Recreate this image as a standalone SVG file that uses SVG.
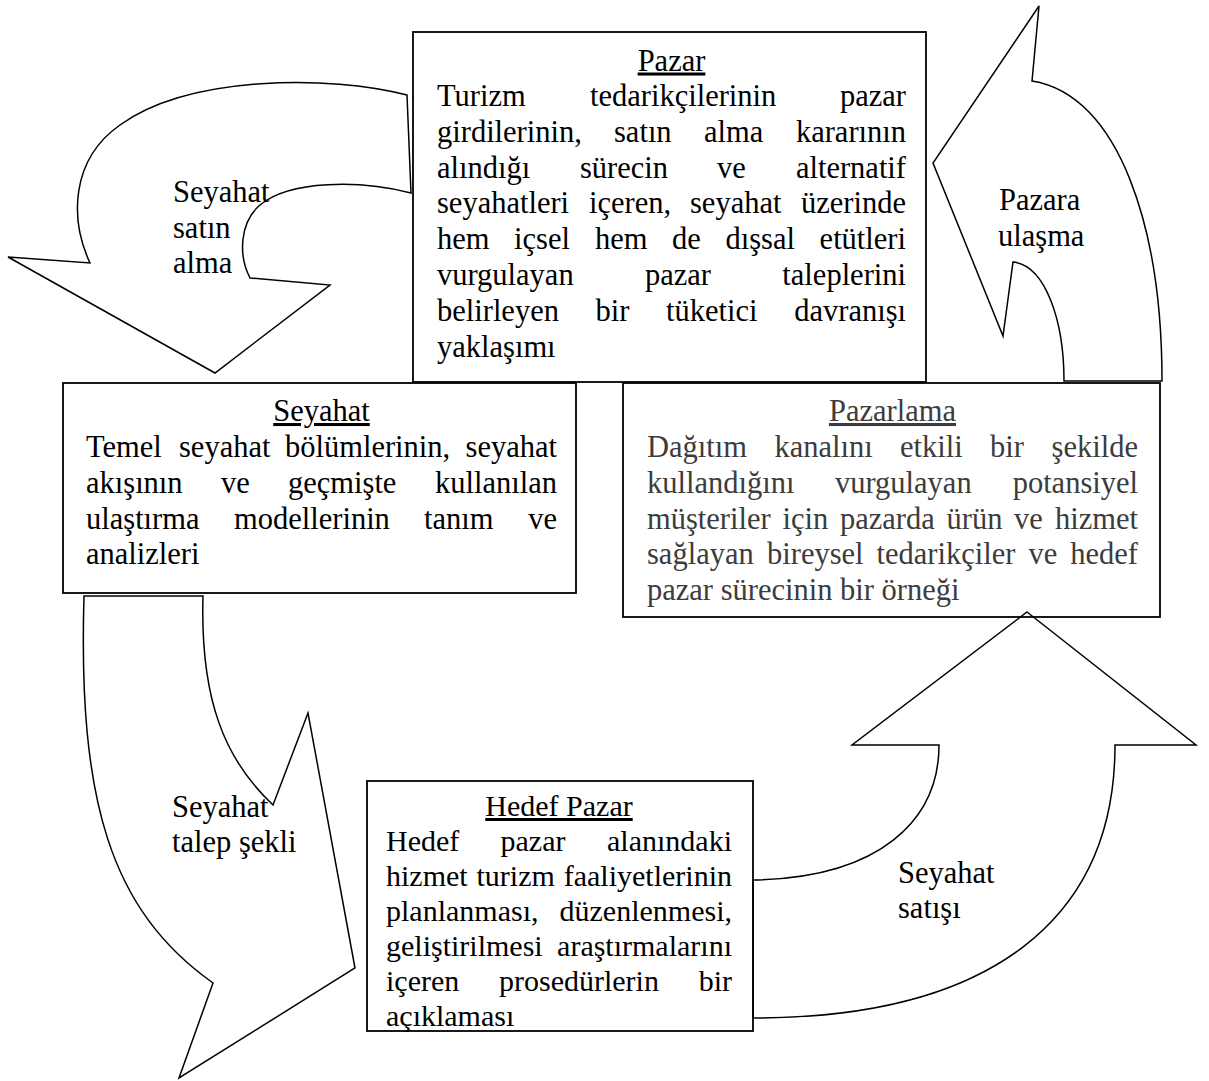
<svg xmlns="http://www.w3.org/2000/svg" width="1209" height="1081" viewBox="0 0 1209 1081">
  <style>
    text { font-family: "Liberation Serif", "Times New Roman", serif; font-size: 30.5px; fill: #000; }
    .small text, text.small { font-size: 30px; }
    .grey { fill: #3c3c3c; }
    .ttl { text-anchor: middle; text-decoration: underline; }
    .e { text-anchor: end; }
    .arrow { fill: #fff; stroke: #000; stroke-width: 1.5; stroke-linejoin: miter; }
    .box { fill: none; stroke: #000; stroke-width: 1.8; }
  </style>
  <rect width="1209" height="1081" fill="#fff"/>

  <!-- curved block arrows between the stages -->
  <g id="connectors">
    <!-- Seyahat satın alma: Pazar -> Seyahat -->
    <path id="arrow-satin-alma" class="arrow" d="M 407,95 L 411,193 C 360,180 290,180 260,205 C 240,222 238,255 250,278 L 330,285 L 215,373 L 8,257 L 90,263 C 70,220 70,160 120,125 C 190,75 330,75 407,95 Z"/>
    <!-- Pazara ulaşma: Pazarlama -> Pazar -->
    <path id="arrow-ulasma" class="arrow" d="M 1039,6 L 1032,81 C 1120,95 1162,230 1162,381 L 1064,381 C 1064,320 1045,265 1013,262 L 1003,336 L 933,163 Z"/>
    <!-- Seyahat talep şekli: Seyahat -> Hedef Pazar -->
    <path id="arrow-talep" class="arrow" d="M 84,596 L 203,596 C 200,700 225,760 273,805 L 308,713 L 355,968 L 179,1078 L 213,983 C 110,910 78,800 84,596 Z"/>
    <!-- Seyahat satışı: Hedef Pazar -> Pazarlama -->
    <path id="arrow-satis" class="arrow" d="M 1027,612 L 1196,745 L 1115,745 C 1115,920 990,1018 753,1018 L 753,880 C 880,878 939,820 939,745 L 852,745 Z"/>

    <text x="173" y="202">Seyahat</text>
    <text x="173" y="238">satın</text>
    <text x="173" y="273">alma</text>

    <text x="999" y="210">Pazara</text>
    <text x="998" y="246">ulaşma</text>

    <text x="172" y="817">Seyahat</text>
    <text x="172" y="852">talep şekli</text>

    <text x="898" y="883">Seyahat</text>
    <text x="898" y="918">satışı</text>
  </g>

  <!-- Pazar -->
  <g id="node-pazar">
    <rect class="box" x="413" y="32" width="513" height="350"/>
    <text class="ttl" x="671.5" y="70.5">Pazar</text>
    <text y="106"><tspan x="437">Turizm</tspan><tspan x="590">tedarikçilerinin</tspan><tspan class="e" x="906">pazar</tspan></text>
    <text y="141.8"><tspan x="437">girdilerinin,</tspan><tspan x="614">satın</tspan><tspan x="704">alma</tspan><tspan class="e" x="906">kararının</tspan></text>
    <text y="177.6"><tspan x="437">alındığı</tspan><tspan x="580">sürecin</tspan><tspan x="717">ve</tspan><tspan class="e" x="906">alternatif</tspan></text>
    <text y="213.4"><tspan x="437">seyahatleri</tspan><tspan x="589">içeren,</tspan><tspan x="690">seyahat</tspan><tspan class="e" x="906">üzerinde</tspan></text>
    <text y="249.2"><tspan x="437">hem</tspan><tspan x="514">içsel</tspan><tspan x="595">hem</tspan><tspan x="672">de</tspan><tspan x="725.5">dışsal</tspan><tspan class="e" x="906">etütleri</tspan></text>
    <text y="285"><tspan x="437">vurgulayan</tspan><tspan x="645">pazar</tspan><tspan class="e" x="906">taleplerini</tspan></text>
    <text y="320.8"><tspan x="437">belirleyen</tspan><tspan x="595.5">bir</tspan><tspan x="666">tüketici</tspan><tspan class="e" x="906">davranışı</tspan></text>
    <text x="437" y="356.6">yaklaşımı</text>
  </g>

  <!-- Seyahat -->
  <g id="node-seyahat">
    <rect class="box" x="63" y="383" width="513" height="210"/>
    <text class="ttl" x="321.5" y="421">Seyahat</text>
    <text y="457"><tspan x="86">Temel</tspan><tspan x="179">seyahat</tspan><tspan x="285">bölümlerinin,</tspan><tspan class="e" x="557">seyahat</tspan></text>
    <text y="492.8"><tspan x="86">akışının</tspan><tspan x="221">ve</tspan><tspan x="288">geçmişte</tspan><tspan class="e" x="557">kullanılan</tspan></text>
    <text y="528.6"><tspan x="86">ulaştırma</tspan><tspan x="234">modellerinin</tspan><tspan x="424">tanım</tspan><tspan class="e" x="557">ve</tspan></text>
    <text x="86" y="564.4">analizleri</text>
  </g>

  <!-- Pazarlama -->
  <g id="node-pazarlama">
    <rect class="box" x="623" y="383" width="537" height="234"/>
    <text class="ttl grey" x="892.5" y="421">Pazarlama</text>
    <text class="grey" y="457"><tspan x="647">Dağıtım</tspan><tspan x="774.5">kanalını</tspan><tspan x="900">etkili</tspan><tspan x="990">bir</tspan><tspan class="e" x="1138">şekilde</tspan></text>
    <text class="grey" y="492.8"><tspan x="647">kullandığını</tspan><tspan x="835">vurgulayan</tspan><tspan class="e" x="1138">potansiyel</tspan></text>
    <text class="grey" y="528.6"><tspan x="647">müşteriler</tspan><tspan x="782.5">için</tspan><tspan x="840">pazarda</tspan><tspan x="946.5">ürün</tspan><tspan x="1014">ve</tspan><tspan class="e" x="1138">hizmet</tspan></text>
    <text class="grey" y="564.4"><tspan x="647">sağlayan</tspan><tspan x="767">bireysel</tspan><tspan x="876.5">tedarikçiler</tspan><tspan x="1028.5">ve</tspan><tspan class="e" x="1138">hedef</tspan></text>
    <text class="grey" x="647" y="600.2">pazar sürecinin bir örneği</text>
  </g>

  <!-- Hedef Pazar -->
  <g id="node-hedef-pazar" class="small">
    <rect class="box" x="367" y="781" width="386" height="250"/>
    <text class="ttl" x="559" y="816">Hedef Pazar</text>
    <text y="851"><tspan x="386">Hedef</tspan><tspan x="500.5">pazar</tspan><tspan class="e" x="732">alanındaki</tspan></text>
    <text y="886"><tspan x="386">hizmet</tspan><tspan x="476.5">turizm</tspan><tspan class="e" x="732">faaliyetlerinin</tspan></text>
    <text y="921"><tspan x="386">planlanması,</tspan><tspan class="e" x="732">düzenlenmesi,</tspan></text>
    <text y="956"><tspan x="386">geliştirilmesi</tspan><tspan class="e" x="732">araştırmalarını</tspan></text>
    <text y="991"><tspan x="386">içeren</tspan><tspan x="499">prosedürlerin</tspan><tspan class="e" x="732">bir</tspan></text>
    <text x="386" y="1026">açıklaması</text>
  </g>
</svg>
